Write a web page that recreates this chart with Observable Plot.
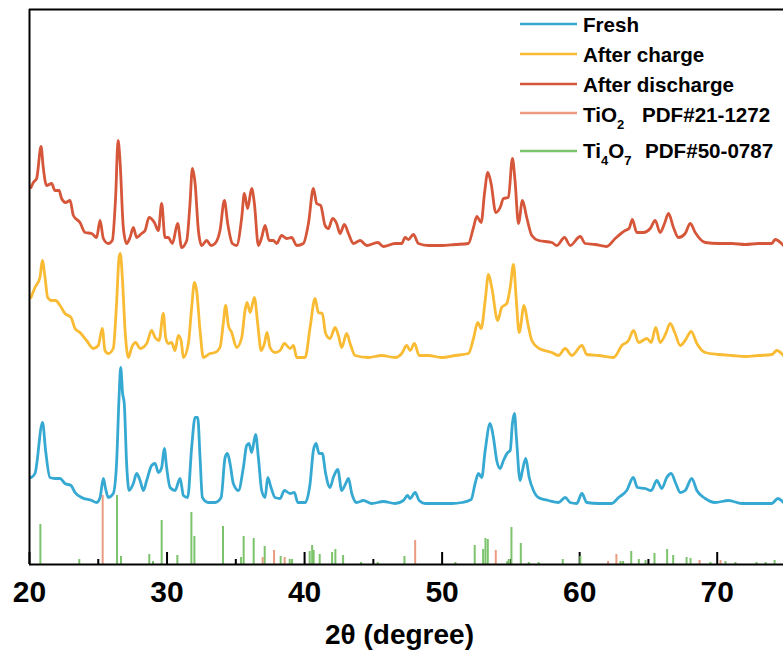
<!DOCTYPE html>
<html>
<head>
<meta charset="utf-8">
<script src="https://cdn.jsdelivr.net/npm/d3@7"></script>
<script src="https://cdn.jsdelivr.net/npm/@observablehq/plot@0.6"></script>
<style>
  html, body { margin: 0; padding: 0; background: #fff; }
  #chart svg { display: block; }
</style>
</head>
<body>
<div id="chart"></div>
<script>
// ---- Data (2θ in degrees, intensity in arbitrary units, patterns stacked) ----
const freshTheta = [20.11,20.40,20.95,21.17,21.49,21.85,22.22,22.58,23.02,23.31,23.79,24.52,24.88,25.13,25.37,25.53,25.73,26.09,26.33,26.51,26.63,26.77,26.89,27.06,27.24,27.55,27.79,28.04,28.28,28.52,28.88,29.13,29.37,29.61,29.80,29.97,30.22,30.58,30.95,31.19,31.50,31.79,32.04,32.23,32.40,32.57,33.00,33.49,33.93,34.22,34.39,34.58,34.82,35.19,35.55,35.79,35.96,36.15,36.44,36.64,36.88,37.13,37.32,37.56,37.85,38.22,38.53,38.95,39.26,39.50,40.04,40.40,40.64,40.84,41.05,41.29,41.53,41.85,42.09,42.41,42.70,42.99,43.19,43.43,43.79,44.28,44.88,45.73,46.58,47.19,47.48,47.67,48.04,48.33,48.76,49.73,50.70,51.43,52.11,52.40,52.64,52.88,53.13,53.49,53.73,53.97,54.22,54.46,54.77,54.95,55.11,55.26,55.40,55.67,55.84,56.08,56.33,56.64,57.00,57.73,58.46,58.95,59.31,59.79,60.16,60.52,61.37,62.34,62.83,63.42,63.90,64.20,64.76,65.20,65.61,65.97,66.33,66.65,66.99,67.31,67.67,68.15,68.52,69.13,69.86,70.82,71.79,72.76,73.97,74.41,74.82];
const freshInt = [87,91,142,114,87,86,86,81,79,72,67,64,62,67,86,76,67,71,101,167,197,171,161,101,74,81,91,84,74,84,99,101,92,97,116,97,77,74,86,69,67,117,147,147,107,67,62,62,67,107,111,101,81,74,97,119,121,112,130,107,74,67,87,77,67,66,74,71,72,62,62,81,114,121,111,111,91,77,87,95,74,81,86,71,62,64,61,63,61,64,69,66,72,64,61,61,61,62,65,81,91,87,114,141,127,104,96,104,112,114,141,151,127,84,94,106,87,74,67,64,62,67,62,61,71,62,61,61,67,74,87,77,76,74,84,76,87,91,81,72,74,86,74,66,62,64,61,61,61,66,62];

const chargeTheta = [20.11,20.40,20.76,20.93,21.13,21.32,21.61,21.90,22.22,22.58,23.02,23.31,23.67,24.15,24.64,25.00,25.29,25.49,25.73,26.09,26.33,26.51,26.60,26.75,26.95,27.19,27.43,27.72,28.04,28.52,28.88,29.13,29.42,29.73,29.90,30.09,30.33,30.58,30.82,31.02,31.19,31.55,31.79,31.99,32.15,32.40,32.64,33.13,33.49,33.85,34.09,34.26,34.46,34.70,35.06,35.43,35.67,35.82,36.04,36.35,36.59,36.84,37.08,37.27,37.49,37.85,38.22,38.53,38.95,39.19,39.43,40.04,40.40,40.76,41.00,41.29,41.53,41.85,42.22,42.46,42.70,43.06,43.31,43.67,44.64,45.61,46.58,47.06,47.43,47.67,47.99,48.33,49.00,49.97,50.95,51.91,52.28,52.59,52.84,53.13,53.37,53.61,54.04,54.33,54.70,54.95,55.19,55.38,55.60,55.96,56.23,56.52,57.05,57.98,58.46,58.95,59.43,60.16,60.52,61.37,62.46,63.07,63.55,63.92,64.28,64.89,65.20,65.53,65.85,66.26,66.58,66.94,67.31,67.67,68.11,68.52,69.13,70.10,71.06,72.04,73.00,73.97,74.34,74.82];
const chargeInt = [267,277,287,304,287,267,264,264,259,251,247,236,232,224,216,219,236,214,211,216,261,307,311,287,234,207,217,222,216,221,234,227,224,251,227,221,222,214,229,224,207,221,257,282,274,234,207,211,212,217,241,259,239,232,217,227,254,262,252,267,241,214,221,232,217,212,214,221,216,219,207,207,237,266,252,251,231,226,237,229,217,231,221,209,207,209,207,211,219,214,221,209,209,207,209,211,226,242,236,264,290,277,244,257,261,277,300,267,232,259,241,224,216,212,209,216,209,219,210,209,207,219,224,234,222,226,222,237,222,231,241,231,219,224,233,221,212,210,209,208,209,210,214,209];

const dischargeTheta = [20.11,20.28,20.52,20.84,21.00,21.24,21.61,21.85,22.15,22.33,22.63,22.95,23.19,23.67,24.04,24.52,24.88,25.13,25.37,25.73,26.02,26.26,26.44,26.58,26.82,27.06,27.31,27.55,27.79,28.15,28.40,28.69,29.08,29.37,29.61,29.85,30.09,30.39,30.77,31.06,31.43,31.67,31.84,32.04,32.28,32.52,32.88,33.20,33.49,33.85,34.17,34.41,34.75,35.06,35.43,35.62,35.86,36.15,36.35,36.64,36.88,37.13,37.42,37.73,37.97,38.33,38.70,39.06,39.43,39.91,40.28,40.64,40.88,41.17,41.49,41.73,42.04,42.33,42.58,42.89,43.19,43.55,44.04,44.52,45.32,45.73,46.58,47.06,47.31,47.55,47.91,48.28,49.00,49.97,50.95,51.91,52.28,52.52,52.84,53.08,53.32,53.56,53.90,54.22,54.46,54.82,55.11,55.30,55.55,55.84,56.15,56.52,57.01,57.98,58.34,58.90,59.31,60.04,60.40,61.13,61.97,62.58,63.31,63.59,63.83,64.15,64.64,65.13,65.49,65.85,66.17,66.46,66.82,67.18,67.67,68.04,68.40,69.13,70.10,71.06,72.04,73.00,73.97,74.21,74.82];
const dischargeInt = [377,382,386,418,397,379,381,374,374,366,362,364,349,342,332,331,327,344,326,321,324,367,424,404,337,321,327,337,327,331,334,347,342,334,361,327,327,321,341,317,324,361,396,381,334,319,324,319,321,334,364,341,321,319,347,371,356,376,361,319,327,339,324,324,321,329,326,327,319,321,341,376,361,359,339,336,346,341,331,340,331,321,324,319,322,318,321,321,327,325,330,321,319,319,320,321,337,348,342,371,392,381,352,357,366,367,406,384,341,364,347,329,324,322,319,327,319,328,321,320,318,326,334,336,345,332,332,336,344,332,341,351,337,327,331,341,332,322,321,321,320,321,321,325,319];

// Reference patterns (stick positions 2θ and relative intensity)
const tio2Theta = [25.32,36.95,37.78,38.55,48.04,53.90,62.07,62.67,68.72,70.24];
const tio2Int   = [69,7,14,7,24,14,3,10,4,4];
const ti4o7Theta = [20.79,23.62,26.36,26.65,28.71,28.98,29.61,30.75,31.77,31.99,34.07,35.38,35.57,36.30,37.10,38.26,38.92,39.09,40.37,40.55,40.66,41.10,42.00,42.24,42.80,44.11,45.32,47.26,50.97,52.37,52.98,53.15,53.32,54.73,54.84,55.04,55.72,56.30,57.02,58.77,60.05,62.97,63.16,63.75,64.30,64.79,65.44,66.36,66.80,67.77,68.06,69.51,70.60,71.33,72.86,73.52,74.17];
const ti4o7Int   = [40,5,69,8,10,3,44,9,52,28,38,7,28,26,18,8,5,5,13,19,14,10,12,15,9,2,2,8,2,19,15,26,25,3,5,37,21,2,2,5,8,3,3,13,5,4,11,15,9,7,6,2,3,2,2,2,4];

const xTickLabels = [20, 30, 40, 50, 60, 70];
const majorTicks = [20, 30, 40, 50, 60, 70];
const minorTicks = [25, 35, 45, 55, 65];

const colors = {
  "Fresh": "#36a9d2",
  "After charge": "#f9bb33",
  "After discharge": "#d6563a",
  "TiO2": "#eb9c80",
  "Ti4O7": "#7cc46c"
};

// ---- build tables ----
const zip = (t, v, name) => t.map((d, i) => ({theta: d, I: v[i], name}));
const fresh = zip(freshTheta, freshInt, "Fresh");
const charge = zip(chargeTheta, chargeInt, "After charge");
const discharge = zip(dischargeTheta, dischargeInt, "After discharge");
const tio2 = zip(tio2Theta, tio2Int, "TiO2");
const ti4o7 = zip(ti4o7Theta, ti4o7Int, "Ti4O7");

const font = "'Liberation Sans', Arial, Helvetica, sans-serif";
const hasAxisMark = typeof Plot.axisX === "function";

const lineOpts = {x: "theta", y: "I", strokeWidth: 2.8, strokeLinejoin: "round", curve: "monotone-x"};
const marks = [
  Plot.ruleX(majorTicks, {x: d => d, y1: 0, y2: 12, stroke: "#000", strokeWidth: 2}),
  Plot.ruleX(minorTicks, {x: d => d, y1: 0, y2: 5, stroke: "#000", strokeWidth: 2}),
  Plot.ruleX(tio2, {x: "theta", y1: 0, y2: "I", stroke: colors["TiO2"], strokeWidth: 2}),
  Plot.ruleX(ti4o7, {x: "theta", y1: 0, y2: "I", stroke: colors["Ti4O7"], strokeWidth: 2}),
  Plot.line(fresh, {...lineOpts, stroke: colors["Fresh"]}),
  Plot.line(charge, {...lineOpts, stroke: colors["After charge"]}),
  Plot.line(discharge, {...lineOpts, stroke: colors["After discharge"]}),
  Plot.ruleX([20], {stroke: "#000", strokeWidth: 2}),
  Plot.ruleY([0], {stroke: "#000", strokeWidth: 2}),
  Plot.ruleY([555], {stroke: "#000", strokeWidth: 2}),
  Plot.text(["2θ (degree)"], {text: d => d, frameAnchor: "bottom", dy: 79, dx: -7, fontSize: 28, fontWeight: "bold", fill: "#000"})
];
if (hasAxisMark) {
  marks.push(Plot.axisX({ticks: xTickLabels, tickSize: 0, tickPadding: 16, fontSize: 30, fontWeight: "bold", tickFormat: d => String(d), label: null, fill: "#000"}));
}

const chart = Plot.plot({
  width: 783,
  height: 661,
  marginLeft: 29,
  marginRight: 0,
  marginTop: 9,
  marginBottom: 97,
  x: {domain: [20, 74.82], ...(hasAxisMark ? {axis: null} : {ticks: xTickLabels, tickSize: 0, tickPadding: 16, label: null})},
  y: {domain: [0, 555], axis: null},
  style: {fontFamily: font, fontSize: "30px", fontWeight: "bold", background: "#fff", color: "#000", overflow: "visible"},
  marks
});

document.getElementById("chart").appendChild(chart);

// ---- legend (inside plot, top right) ----
const svg = d3.select(chart);
const lg = svg.append("g")
  .attr("font-family", font).attr("font-weight", "bold").attr("font-size", 20.6)
  .attr("fill", "#000").attr("text-anchor", "start");
const legendRows = [
  {key: "Fresh", y: 24, base: 31.7},
  {key: "After charge", y: 54, base: 61.7},
  {key: "After discharge", y: 84, base: 91.7},
  {key: "TiO2", y: 113, base: 122},
  {key: "Ti4O7", y: 151, base: 158.3}
];
legendRows.forEach(r => {
  lg.append("line").attr("x1", 520).attr("x2", 577).attr("y1", r.y).attr("y2", r.y)
    .attr("stroke", colors[r.key]).attr("stroke-width", 2.6);
  const t = lg.append("text").attr("x", 583).attr("y", r.base).attr("text-anchor", "start");
  if (r.key === "TiO2") {
    t.append("tspan").text("TiO");
    t.append("tspan").attr("font-size", 13).attr("dy", 7).text("2");
    t.append("tspan").attr("x", 642).attr("dy", -7).text("PDF#21-1272");
  } else if (r.key === "Ti4O7") {
    t.append("tspan").text("Ti");
    t.append("tspan").attr("font-size", 13).attr("dy", 7).text("4");
    t.append("tspan").attr("dy", -7).text("O");
    t.append("tspan").attr("font-size", 13).attr("dy", 7).text("7");
    t.append("tspan").attr("x", 645).attr("dy", -7).text("PDF#50-0787");
  } else {
    t.text(r.key);
  }
});
</script>
</body>
</html>
